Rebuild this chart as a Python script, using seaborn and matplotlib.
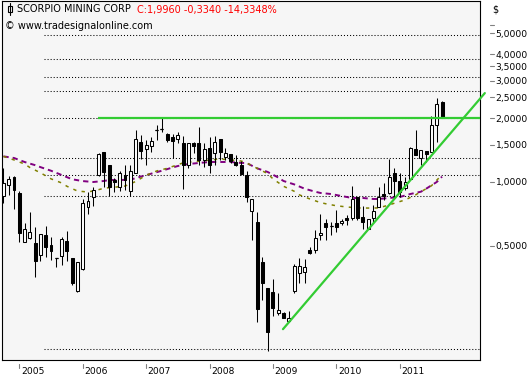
import numpy as np
import pandas as pd
import matplotlib
matplotlib.use("Agg")
import matplotlib.pyplot as plt
import matplotlib.transforms as mtransforms
from matplotlib.ticker import NullLocator
from matplotlib.patches import Rectangle
from matplotlib.lines import Line2D
import seaborn as sns

# ---------------- data (monthly candles, Oct 2004 .. Sep 2011) ----------------
opens = [0.86, 0.968, 1.055, 0.888, 0.523, 0.545, 0.517, 0.453, 0.563, 0.505,
         0.44, 0.448, 0.528, 0.44, 0.307, 0.39, 0.763, 0.85, 1.08, 1.385,
         1.20, 1.02, 0.947, 1.08, 0.907, 1.10, 1.54, 1.43, 1.48, 1.76,
         1.78, 1.68, 1.63, 1.59, 1.53, 1.20, 1.53, 1.53, 1.27, 1.445,
         1.37, 1.59, 1.31, 1.355, 1.24, 1.20, 1.08, 0.73, 0.648, 0.42,
         0.317, 0.304, 0.242, 0.242, 0.222, 0.307, 0.373, 0.377, 0.479, 0.479,
         0.563, 0.641, 0.62, 0.641, 0.641, 0.677, 0.677, 0.85, 0.684, 0.60,
         0.677, 0.763, 0.878, 0.888, 1.10, 1.01, 0.937, 1.03, 1.43, 1.30,
         1.40, 1.385, 1.855, 2.38]
highs = [1.16, 1.07, 1.07, 0.907, 0.641, 0.722, 0.614, 0.57, 0.62, 0.551,
         0.44, 0.551, 0.588, 0.44, 0.42, 0.832, 0.90, 0.95, 1.37, 1.385,
         1.20, 1.044, 1.126, 1.20, 1.20, 1.76, 1.66, 1.58, 1.63, 1.855,
         2.0, 1.70, 1.68, 1.72, 1.65, 1.53, 1.54, 1.81, 1.53, 1.63,
         1.65, 1.59, 1.445, 1.355, 1.34, 1.255, 1.126, 0.83, 0.722, 0.444,
         0.317, 0.35, 0.30, 0.245, 0.247, 0.41, 0.44, 0.435, 0.495, 0.594,
         0.707, 0.669, 0.648, 0.738, 0.669, 0.699, 0.958, 0.85, 0.771, 0.669,
         0.779, 0.947, 0.989, 1.28, 1.16, 1.10, 1.055, 1.46, 1.76, 1.41,
         1.40, 2.04, 2.49, 2.40]
lows = [0.797, 0.87, 0.746, 0.523, 0.52, 0.539, 0.357, 0.425, 0.444, 0.43,
        0.40, 0.407, 0.425, 0.328, 0.304, 0.386, 0.707, 0.771, 1.07, 0.947,
        0.86, 0.897, 0.907, 0.917, 0.86, 1.10, 1.28, 1.20, 1.385, 1.58,
        1.72, 1.54, 1.30, 1.53, 0.927, 1.16, 1.37, 1.20, 1.18, 1.10,
        1.20, 1.27, 1.27, 1.23, 1.19, 1.08, 0.805, 0.534, 0.22, 0.279,
        0.16, 0.234, 0.237, 0.229, 0.22, 0.30, 0.335, 0.335, 0.458, 0.463,
        0.534, 0.534, 0.563, 0.58, 0.628, 0.628, 0.663, 0.663, 0.60, 0.60,
        0.648, 0.763, 0.823, 0.878, 0.84, 0.85, 0.917, 1.02, 1.34, 1.20,
        1.24, 1.385, 1.54, 1.996]
closes = [0.99, 1.03, 0.917, 0.575, 0.601, 0.581, 0.425, 0.57, 0.495, 0.474,
          0.44, 0.539, 0.474, 0.335, 0.42, 0.797, 0.814, 0.917, 1.355, 1.114,
          0.947, 1.0, 1.10, 1.02, 1.126, 1.59, 1.40, 1.49, 1.56, 1.76,
          1.78, 1.58, 1.56, 1.66, 1.20, 1.53, 1.48, 1.27, 1.43, 1.20,
          1.54, 1.385, 1.37, 1.255, 1.20, 1.09, 0.85, 0.83, 0.253, 0.335,
          0.197, 0.255, 0.25, 0.229, 0.229, 0.403, 0.403, 0.40, 0.463, 0.545,
          0.575, 0.614, 0.618, 0.614, 0.655, 0.663, 0.832, 0.677, 0.648, 0.669,
          0.73, 0.85, 0.859, 1.055, 1.01, 0.897, 1.0, 1.445, 1.34, 1.41,
          1.355, 1.855, 2.33, 1.996]

# moving averages (month index -> value)
ma_purple_idx = [0, 2, 4, 6, 7, 9, 11, 13, 15, 17, 19, 20, 22, 24, 26, 28, 30, 32, 33, 35,
                 37, 39, 41, 43, 45, 46, 48, 50, 52, 53, 55, 57, 59, 60, 62, 64, 66, 68,
                 70, 71, 73, 75, 77, 79, 80, 82, 83]
ma_purple_val = [1.32, 1.297, 1.242, 1.20, 1.175, 1.13, 1.079, 1.03, 1.01, 1.0, 1.011, 1.022,
                 1.022, 1.025, 1.06, 1.095, 1.13, 1.17, 1.189, 1.215, 1.229, 1.242, 1.242,
                 1.242, 1.229, 1.229, 1.16, 1.115, 1.05, 1.011, 0.975, 0.93, 0.90, 0.888,
                 0.878, 0.859, 0.841, 0.841, 0.832, 0.832, 0.841, 0.85, 0.878, 0.90, 0.93,
                 1.0, 1.06]
ma_olive_idx = [0, 2, 4, 5, 7, 9, 11, 12, 14, 16, 18, 19, 21, 23, 25, 27, 29, 31, 34, 35,
                37, 39, 41, 43, 45, 46, 48, 50, 51, 53, 55, 56, 58, 60, 61, 63, 65, 67, 69,
                71, 73, 74, 76, 78, 79, 81, 82, 83]
ma_olive_val = [1.32, 1.27, 1.215, 1.17, 1.105, 1.035, 0.99, 0.955, 0.907, 0.897, 0.92, 0.935,
                0.945, 0.957, 1.005, 1.075, 1.127, 1.16, 1.23, 1.24, 1.252, 1.268, 1.283,
                1.27, 1.255, 1.229, 1.16, 1.095, 1.035, 0.955, 0.905, 0.87, 0.832, 0.80,
                0.79, 0.773, 0.763, 0.755, 0.754, 0.755, 0.78, 0.795, 0.823, 0.87, 0.90,
                0.96, 1.02, 1.08]

fib_levels = [0.164, 0.862, 1.08, 1.29, 2.0, 2.68, 3.11, 3.78, 4.94]
fib_start = 7.7
resistance_level = 1.99
resistance_start = 17.9
trend_x = [52.9, 91.1]
trend_y = [0.203, 2.62]

year_idx = [3, 15, 27, 39, 51, 63, 75]
year_labels = ["2005", "2006", "2007", "2008", "2009", "2010", "2011"]
ytick_vals = [0.5, 1.0, 1.5, 2.0, 2.5, 3.0, 3.5, 4.0, 5.0]
ytick_labels = ["0,5000", "1,0000", "1,5000", "2,0000", "2,5000", "3,0000",
                "3,5000", "4,0000", "5,0000"]

title = "SCORPIO MINING CORP"
quote = "C:1,9960 -0,3340 -14,3348%"
credit = "\u00a9 www.tradesignalonline.com"

# ---------------- figure ----------------
sns.set_style("white")
plt.rcParams['font.family'] = ['DejaVu Sans']
plt.rcParams['lines.scale_dashes'] = False

W, H = 530, 380
L, R, T, B = 1.5, 479.5, 0.5, 359.5
fig = plt.figure(figsize=(W / 100, H / 100), dpi=100)
fig.patch.set_facecolor('white')
ax = fig.add_axes([L / W, (H - B) / H, (R - L) / W, (B - T) / H])
ax.set_facecolor('#f6f6f6')
ax.set_yscale('log')

df = pd.DataFrame(dict(i=np.arange(len(opens)), o=opens, h=highs, l=lows, c=closes))
df["lo"] = df[["o", "c"]].min(axis=1)
df["hi"] = df[["o", "c"]].max(axis=1)
df["up"] = df["c"] >= df["o"]

bw = 0.56
# fib / grid levels
ax.hlines(fib_levels, fib_start, 90.1, colors='black', linestyles=(0, (0.75, 1.45)), lw=0.75, zorder=1)

# moving averages via seaborn
sns.lineplot(x=ma_purple_idx, y=ma_purple_val, ax=ax, color='#800080', lw=1.4, zorder=2)
ax.lines[-1].set_linestyle((0, (3.8, 2.9)))
sns.lineplot(x=ma_olive_idx, y=ma_olive_val, ax=ax, color='#808000', lw=1.1, zorder=2)
ax.lines[-1].set_linestyle((0, (2.4, 3.8)))

# candles
ax.vlines(df.i, df.l, df.h, colors='black', lw=0.75, zorder=3)
up = df[df.up]
dn = df[~df.up]
ax.bar(up.i, up.hi - up.lo, bottom=up.lo, width=bw, color='white', edgecolor='black', lw=0.75, zorder=4)
ax.bar(dn.i, dn.hi - dn.lo, bottom=dn.lo, width=bw, color='black', edgecolor='black', lw=0.75, zorder=4)
doji = df[(df.hi / df.lo) < 1.01]
ax.hlines(doji.c, doji.i - bw / 2, doji.i + bw / 2, colors='black', lw=0.9, zorder=4)

# green support / trend lines
ax.hlines(resistance_level, resistance_start, 90.1, colors='#33cc33', lw=1.6, zorder=5)
ax.plot(trend_x, trend_y, color='#33cc33', lw=1.6, zorder=5, clip_on=False)

xmin = (L - 3.45) / 5.284
xmax = (R - 3.45) / 5.284
ax.set_xlim(xmin, xmax)
ax.set_ylim(np.exp((182 - B) / 92.3), np.exp((182 - T) / 92.3))

# y axis on the right
ax.yaxis.tick_right()
ax.yaxis.set_minor_locator(NullLocator())
ax.set_yticks(ytick_vals)
ax.set_yticklabels(ytick_labels)
ax.tick_params(axis='y', length=0, pad=11.5, labelsize=6.6, colors='black')
ytr = mtransforms.blended_transform_factory(ax.transAxes, ax.transData)
ax_w = R - L
for v in ytick_vals + [5.5]:
    ax.add_line(Line2D([(490 - L) / ax_w, (493.5 - L) / ax_w], [v, v], transform=ytr,
                       color='#808080', lw=0.8, clip_on=False))

# x axis
ax.set_xticks(year_idx)
ax.set_xticklabels(year_labels, ha='left')
ax.tick_params(axis='x', length=0, pad=5.5, labelsize=6.6, colors='black')
off = mtransforms.ScaledTranslation(1.5 / 100, 0, fig.dpi_scale_trans)
for lab in ax.get_xticklabels():
    lab.set_transform(lab.get_transform() + off)
xtr = mtransforms.blended_transform_factory(ax.transData, ax.transAxes)
ax_h = B - T
for xi in year_idx:
    ax.add_line(Line2D([xi, xi], [-(364 - B) / ax_h, -(367.5 - B) / ax_h], transform=xtr,
                       color='#808080', lw=0.8, clip_on=False))

for s in ax.spines.values():
    s.set_color('black')
    s.set_linewidth(0.8)
ax.set_xlabel("")
ax.set_ylabel("")

# header
def fy(py):
    return (H - py) / H

fig.text(17 / W, fy(9.5), title, fontsize=7, color='black', va='center', ha='left')
fig.text(137 / W, fy(9.5), quote, fontsize=7, color='#ff0000', va='center', ha='left')
fig.text(5 / W, fy(26), credit, fontsize=7, color='black', va='center', ha='left')
fig.text(492 / W, fy(10), "$", fontsize=7, color='black', va='center', ha='left')
# small candle icon
fig.add_artist(Line2D([9.5 / W, 9.5 / W], [fy(3), fy(15)], color='black', lw=0.8))
fig.add_artist(Rectangle((7.5 / W, fy(12)), 4 / W, 6 / H, facecolor='white', edgecolor='black', lw=0.8))

fig.savefig("out.png", dpi=100, facecolor='white')
